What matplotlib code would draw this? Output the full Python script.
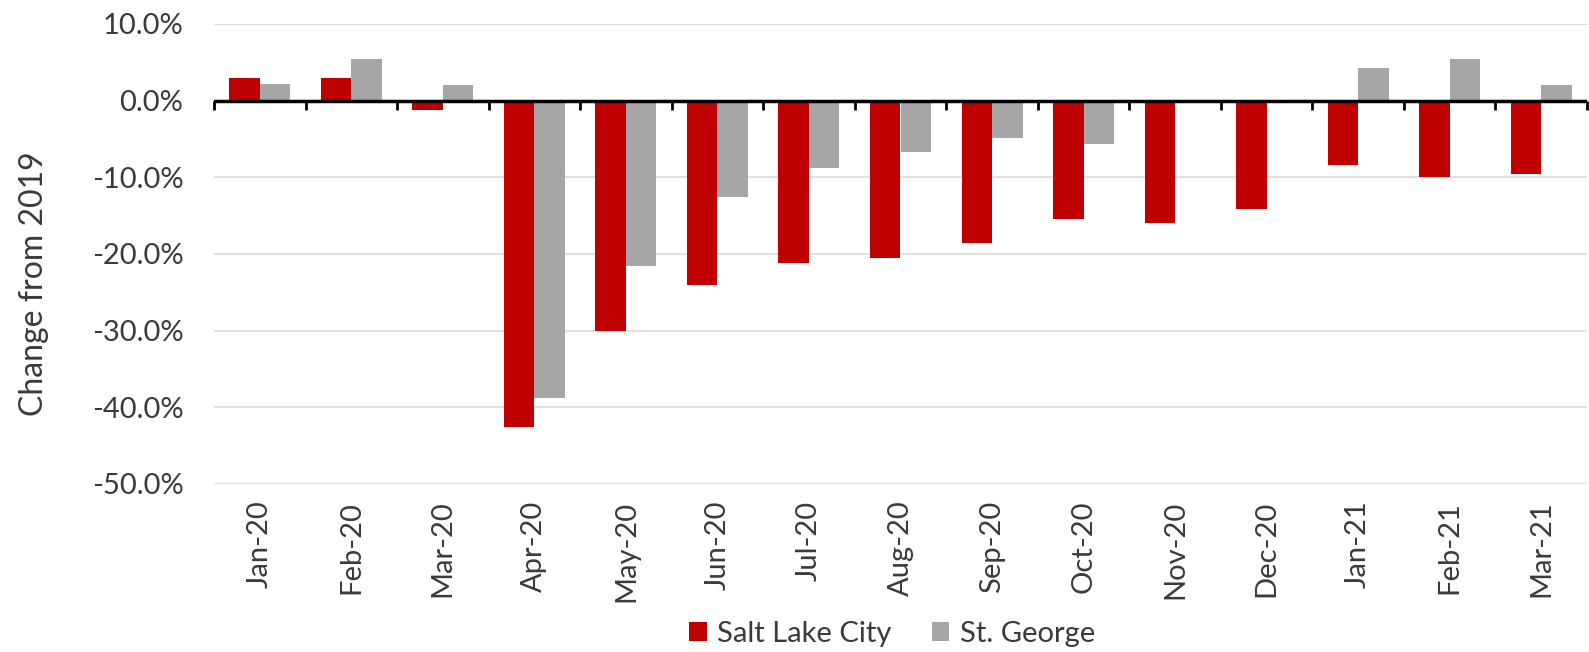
import numpy as np
import matplotlib
matplotlib.use("Agg")
import matplotlib.pyplot as plt
from matplotlib.ticker import FuncFormatter, NullFormatter

months = ["Jan-20", "Feb-20", "Mar-20", "Apr-20", "May-20", "Jun-20", "Jul-20", "Aug-20",
          "Sep-20", "Oct-20", "Nov-20", "Dec-20", "Jan-21", "Feb-21", "Mar-21"]
salt_lake = [2.9, 2.9, -1.2, -42.5, -30.0, -24.1, -21.2, -20.5, -18.6, -15.5, -15.9, -14.1, -8.4, -10.0, -9.6]
st_george = [2.2, 5.4, 2.0, -38.8, -21.6, -12.6, -8.8, -6.7, -4.9, -5.6, 0.0, 0.0, 4.3, 5.4, 2.0]

plt.rcParams['font.family'] = ['Lato', 'DejaVu Sans']
txt = '#3a3a3a'
red = '#c00000'
grey = '#a6a6a6'

fig = plt.figure(figsize=(15.89, 6.52), dpi=100)
ax = fig.add_axes([214 / 1589, 1 - 484 / 652, 1373 / 1589, 460 / 652])

x = np.arange(len(months))
w = 1 / 3
ax.bar(x - w / 2, salt_lake, width=w, color=red, label="Salt Lake City", zorder=3)
ax.bar(x + w / 2, st_george, width=w, color=grey, label="St. George", zorder=3)

ymin, ymax = -50, 10
ax.set_ylim(ymin, ymax)
ax.set_xlim(-0.5, len(months) - 0.5)
ax.set_yticks(np.arange(-50, 11, 10))
ax.yaxis.set_major_formatter(FuncFormatter(lambda v, p: f"{v:.1f}%"))
ax.grid(axis='y', color='#e0e0e0', linewidth=1.5, zorder=0)
for s in ax.spines.values():
    s.set_visible(False)

ax.set_xticks(x)
ax.set_xticklabels(months, rotation=90)
ax.tick_params(axis='x', length=0, pad=12, labelsize=21, labelcolor=txt)
ax.tick_params(axis='y', length=0, pad=22, labelsize=21, labelcolor=txt)

ax.set_ylabel("Change from 2019", fontsize=23, color=txt)
ax.yaxis.set_label_coords(-0.12, 0.435)

# zero line with category boundary ticks
ax.axhline(0, color='black', linewidth=2.5, zorder=4)
zero = (0 - ymin) / (ymax - ymin)
sec = ax.secondary_xaxis(zero)
sec.set_xticks(np.arange(len(months) + 1) - 0.5)
sec.xaxis.set_major_formatter(NullFormatter())
sec.xaxis.set_ticks_position('bottom')
sec.tick_params(axis='x', direction='out', length=6.5, width=2, color='black')
for k in sec.spines:
    sec.spines[k].set_visible(False)

fig.legend(loc='center', bbox_to_anchor=(892 / 1589, 1 - 634 / 652), ncol=2, frameon=False,
           fontsize=21, labelcolor=txt, handlelength=0.6, handleheight=0.6,
           handletextpad=0.35, columnspacing=1.4)

fig.savefig("out.png", dpi=100)
